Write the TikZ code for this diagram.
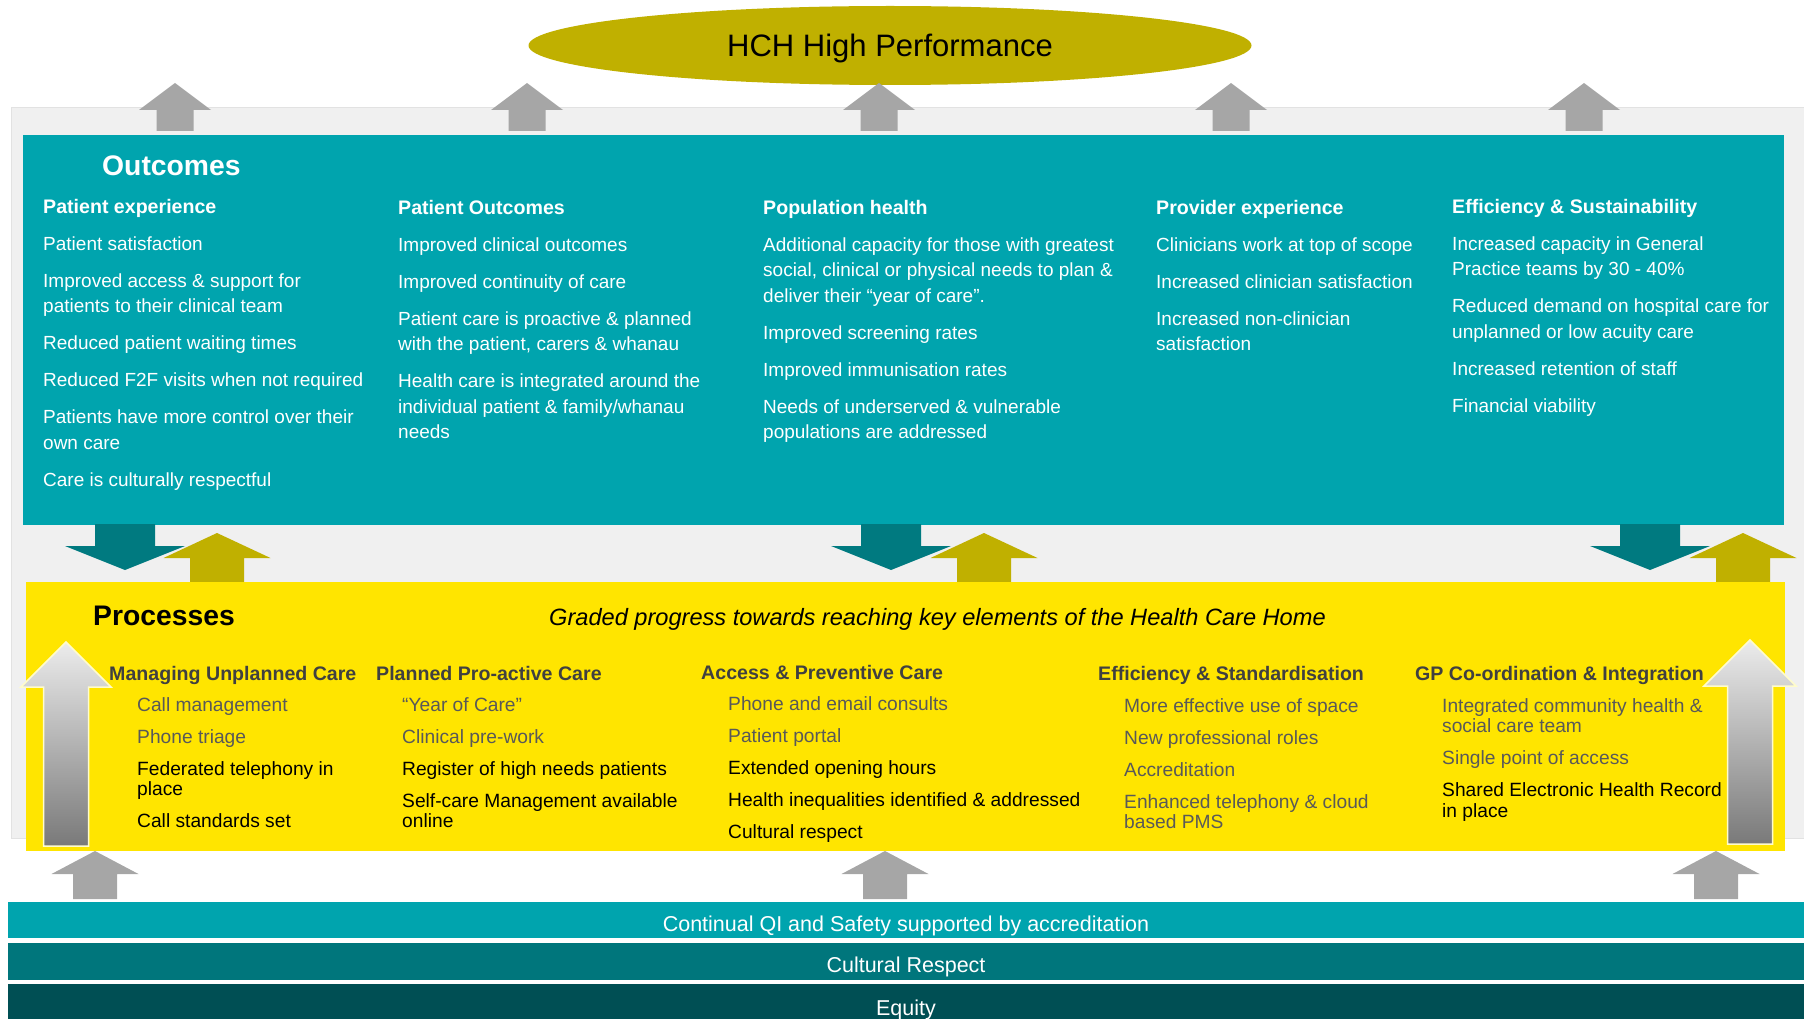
\documentclass[tikz,border=0pt]{standalone}
\usepackage{fontspec}
\setmainfont{Liberation Sans}
\usetikzlibrary{shapes.geometric}

\definecolor{hchteal}{RGB}{0,164,174}
\definecolor{hchdark}{RGB}{0,122,128}
\definecolor{hcholive}{RGB}{192,176,0}
\definecolor{hchyellow}{RGB}{255,229,0}
\definecolor{bandmid}{RGB}{0,118,124}
\definecolor{banddeep}{RGB}{0,79,84}
\definecolor{arrowgray}{RGB}{166,166,166}
\definecolor{panelgray}{RGB}{240,240,240}
\definecolor{panelline}{RGB}{226,226,226}
\definecolor{headgray}{RGB}{64,64,64}
\definecolor{itemgray}{RGB}{89,89,89}

\newcommand\outheadfont{\bfseries\fontsize{19.6}{25.5}\selectfont}

\tikzset{
  outtext/.style={anchor=north west, inner sep=0pt, align=left, text=white,
    font=\fontsize{19}{25.5}\selectfont},
  prochead/.style={anchor=north west, inner sep=0pt, text=headgray,
    font=\bfseries\fontsize{19.6}{22}\selectfont},
  proctext/.style={anchor=north west, inner sep=0pt, align=left,
    font=\fontsize{19.2}{20.8}\selectfont},
  band/.style={minimum width=1796, inner sep=0pt, text=white, text depth=0pt,
    text height=22.5pt, font=\fontsize{21.5}{24}\selectfont},
}

% block arrow: centre x, tip, head base, tail end, head half width, shaft half width, options
\newcommand\blockarrow[7]{%
  \path[#7] (#1-#6,#4) -- (#1-#6,#3) -- (#1-#5,#3) -- (#1,#2)
    -- (#1+#5,#3) -- (#1+#6,#3) -- (#1+#6,#4) -- cycle;}

\begin{document}
\begin{tikzpicture}[x=1pt,y=-1pt]
  \useasboundingbox (0,0) rectangle (1804,1019);

  % grey back panel
  \fill[panelgray, draw=panelline] (11,107) rectangle (1810,838);

  % goal
  \node (goal) [ellipse, fill=hcholive, minimum width=723, minimum height=79,
    inner sep=0pt, text depth=0pt, font=\fontsize{31}{36}\selectfont]
    at (890,45.5) {HCH High Performance};
  \foreach \x in {175,527,879,1231,1584}
    \blockarrow{\x}{83}{110}{131}{36}{18.5}{fill=arrowgray};

  % outcomes
  \fill[hchteal] (23,135) rectangle (1784,525);
  \node (outtitle) [anchor=west, inner sep=0pt, text=white,
    font=\bfseries\fontsize{28.3}{32}\selectfont] at (102,166) {Outcomes};

  \node (patexp) [outtext] at (43,199) {{\outheadfont Patient experience}\\[11.5pt]
    Patient satisfaction\\[11.5pt]
    Improved  access \& support for\\
    patients to their clinical team\\[11.5pt]
    Reduced patient waiting times\\[11.5pt]
    Reduced F2F visits when not required\\[11.5pt]
    Patients have  more control over  their\\
    own care\\[11.5pt]
    Care is culturally respectful};
  \node (patout) [outtext] at (398,200) {{\outheadfont Patient Outcomes}\\[11.5pt]
    Improved  clinical outcomes\\[11.5pt]
    Improved  continuity of care\\[11.5pt]
    Patient care is proactive  \& planned\\
    with the patient, carers \& whanau\\[11.5pt]
    Health care is integrated around the\\
    individual  patient \& family/whanau\\
    needs};
  \node (pophealth) [outtext] at (763,200) {{\outheadfont Population health}\\[11.5pt]
    Additional capacity for those with greatest\\
    social, clinical or physical needs to plan \&\\
    deliver  their “year of care”.\\[11.5pt]
    Improved  screening rates\\[11.5pt]
    Improved  immunisation rates\\[11.5pt]
    Needs of underserved  \& vulnerable\\
    populations are addressed};
  \node (provexp) [outtext] at (1156,200) {{\outheadfont Provider experience}\\[11.5pt]
    Clinicians work at top of scope\\[11.5pt]
    Increased clinician satisfaction\\[11.5pt]
    Increased non-clinician\\
    satisfaction};
  \node (effsust) [outtext] at (1452,199) {{\outheadfont Efficiency \& Sustainability}\\[11.5pt]
    Increased capacity in General\\
    Practice teams by 30 - 40\%\\[11.5pt]
    Reduced demand on hospital care for\\
    unplanned or low acuity care\\[11.5pt]
    Increased retention of staff\\[11.5pt]
    Financial viability};

  % links between outcomes and processes
  \foreach \x in {125,891,1650}
    \blockarrow{\x}{570}{546}{524}{60}{30}{fill=hchdark};
  \foreach \x in {217,984,1743}
    \blockarrow{\x}{533}{558}{583}{53.5}{27}{fill=hcholive};

  % processes
  \fill[hchyellow] (26,582) rectangle (1785,851);
  \node (proctitle) [anchor=west, inner sep=0pt,
    font=\bfseries\fontsize{28.3}{32}\selectfont] at (93,616) {Processes};
  \node (graded) [anchor=base west, inner sep=0pt,
    font=\itshape\fontsize{23.6}{26}\selectfont] at (549,625)
    {Graded progress towards  reaching key elements of the Health Care Home};

  \blockarrow{66}{642}{687}{846}{45}{22.5}{draw=white!80!yellow, line width=1.5pt,
    top color=gray!15, bottom color=gray!95!black};
  \blockarrow{1750}{640}{686}{844}{46}{22.5}{draw=white!80!yellow, line width=1.5pt,
    top color=gray!15, bottom color=gray!95!black};

  \node (unplanned) [prochead] at (109,666) {Managing Unplanned Care};
  \node (planned) [prochead] at (376,666) {Planned Pro-active Care};
  \node (access) [prochead] at (701,665) {Access \& Preventive Care};
  \node (effstd) [prochead] at (1098,666) {Efficiency \& Standardisation};
  \node (gpcoord) [prochead] at (1415,666) {GP Co-ordination \& Integration};

  \node (unplannedlist) [proctext] at (137,697) {\textcolor{itemgray}{Call management}\\[11.2pt]
    \textcolor{itemgray}{Phone triage}\\[11.2pt]
    Federated telephony in\\
    place\\[11.2pt]
    Call standards set};
  \node (plannedlist) [proctext] at (402,697) {\textcolor{itemgray}{“Year of Care”}\\[11.2pt]
    \textcolor{itemgray}{Clinical pre-work}\\[11.2pt]
    Register of high needs patients\\[11.2pt]
    Self-care Management available\\
    online};
  \node (accesslist) [proctext] at (728,696) {\textcolor{itemgray}{Phone and email consults}\\[11.2pt]
    \textcolor{itemgray}{Patient portal}\\[11.2pt]
    Extended opening hours\\[11.2pt]
    Health inequalities identified  \& addressed\\[11.2pt]
    Cultural respect};
  \node (effstdlist) [proctext, text=itemgray] at (1124,698) {More effective  use of space\\[11.2pt]
    New professional  roles\\[11.2pt]
    Accreditation\\[11.2pt]
    Enhanced telephony \& cloud\\
    based PMS};
  \node (gpcoordlist) [proctext] at (1442,698) {\textcolor{itemgray}{Integrated community health \&}\\
    \textcolor{itemgray}{social care team}\\[11.2pt]
    \textcolor{itemgray}{Single point of access}\\[11.2pt]
    Shared Electronic Health Record\\
    in place};

  % foundations
  \foreach \x in {95,885,1716}
    \blockarrow{\x}{851}{874}{899}{43.5}{22}{fill=arrowgray};
  \node (qiband) [band, fill=hchteal, minimum height=36] at (906,920)
    {Continual QI and Safety supported by accreditation};
  \node (respband) [band, fill=bandmid, minimum height=37] at (906,961.5)
    {Cultural Respect};
  \node (equityband) [band, fill=banddeep, minimum height=40] at (906,1004)
    {Equity};
\end{tikzpicture}
\end{document}
